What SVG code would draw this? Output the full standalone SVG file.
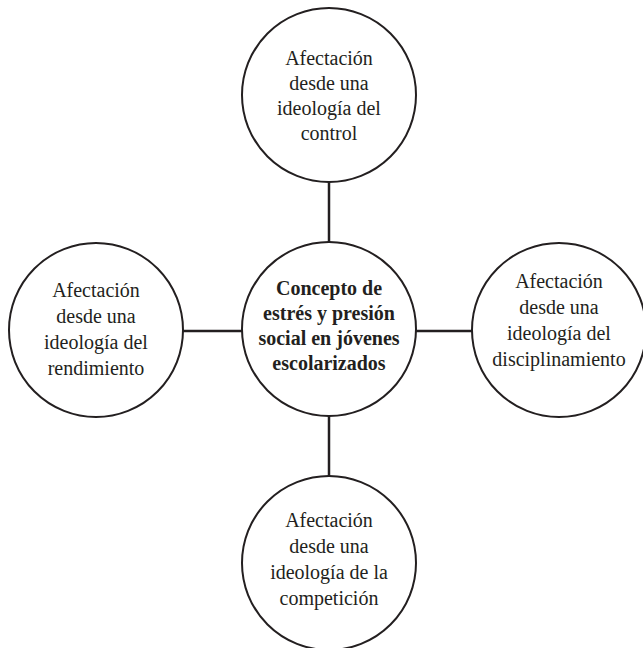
<svg xmlns="http://www.w3.org/2000/svg" width="643" height="648" viewBox="0 0 643 648">
<style>
.c{fill:#fff;stroke:#231f20;stroke-width:2}
.l{stroke:#231f20;stroke-width:2.5;fill:none}
text{font-family:"Liberation Serif","Times New Roman",serif;font-size:20px;fill:#231f20;text-anchor:middle}
.b{font-weight:bold}
</style>
<rect width="643" height="648" fill="#fff"/>
<g id="connectors">
<line class="l" x1="329" y1="182" x2="329" y2="242"/>
<line class="l" x1="183" y1="331" x2="242" y2="331"/>
<line class="l" x1="416" y1="331" x2="472" y2="331"/>
<line class="l" x1="329" y1="416" x2="329" y2="476"/>
</g>
<g id="top">
<circle class="c" cx="329" cy="95" r="87"/>
<text x="329" y="65">Afectación</text>
<text x="329" y="90">desde una</text>
<text x="329" y="115">ideología del</text>
<text x="329" y="140">control</text>
</g>
<g id="center">
<circle class="c" cx="329" cy="329" r="87"/>
<text class="b" x="329" y="295">Concepto de</text>
<text class="b" x="329" y="320">estrés y presión</text>
<text class="b" x="329" y="345">social en jóvenes</text>
<text class="b" x="329" y="370">escolarizados</text>
</g>
<g id="left">
<circle class="c" cx="96" cy="330" r="87"/>
<text x="96" y="297">Afectación</text>
<text x="96" y="323">desde una</text>
<text x="96" y="349">ideología del</text>
<text x="96" y="375">rendimiento</text>
</g>
<g id="right">
<circle class="c" cx="559" cy="330" r="87"/>
<text x="559" y="288">Afectación</text>
<text x="559" y="314">desde una</text>
<text x="559" y="340">ideología del</text>
<text x="559" y="366">disciplinamiento</text>
</g>
<g id="bottom">
<circle class="c" cx="329" cy="563" r="87"/>
<text x="329" y="527">Afectación</text>
<text x="329" y="553">desde una</text>
<text x="329" y="579">ideología de la</text>
<text x="329" y="605">competición</text>
</g>
</svg>
